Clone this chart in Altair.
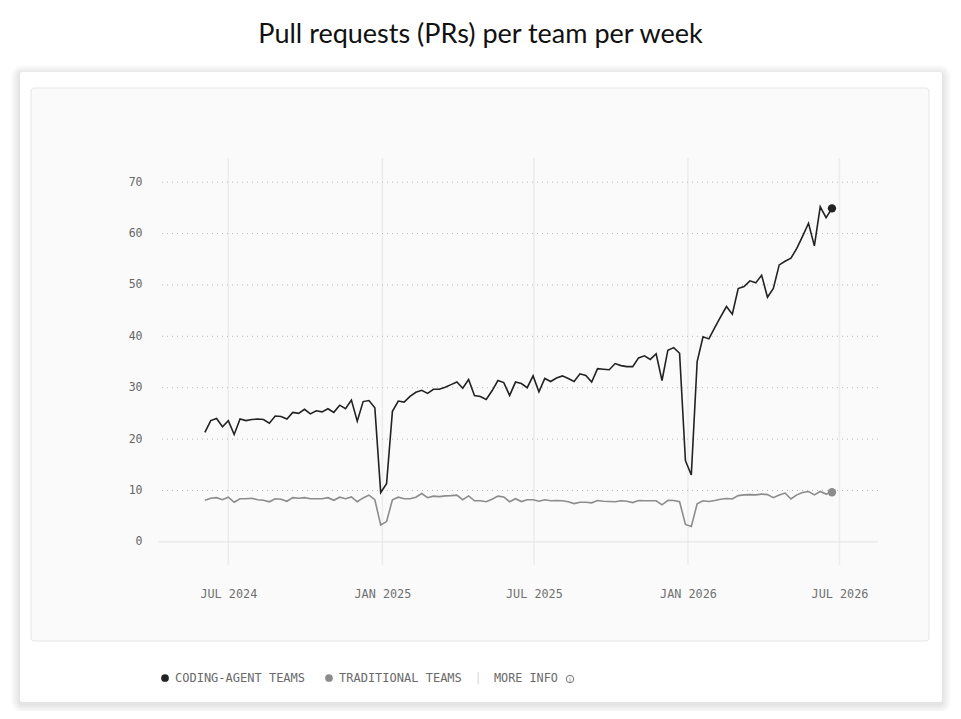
import altair as alt
import pandas as pd

# ---------------- data ----------------
week_start = "2024-06-03"
n_weeks = 108
dates = pd.date_range(week_start, periods=n_weeks, freq="7D").strftime("%Y-%m-%dT00:00:00").tolist()

coding_agent = [
    21.3, 23.6, 24.0, 22.4, 23.6, 20.9, 23.9, 23.6, 23.8, 23.9,
    23.8, 23.1, 24.5, 24.4, 23.9, 25.2, 25.0, 25.8, 24.9, 25.5,
    25.3, 25.9, 25.2, 26.6, 25.9, 27.6, 23.5, 27.3, 27.5, 26.1,
    9.6, 11.3, 25.4, 27.4, 27.2, 28.3, 29.1, 29.5, 28.9, 29.7,
    29.7, 30.1, 30.6, 31.1, 29.9, 31.6, 28.5, 28.3, 27.7, 29.4,
    31.4, 31.0, 28.5, 31.1, 30.8, 30.0, 32.3, 29.2, 31.8, 31.2,
    31.9, 32.3, 31.8, 31.2, 32.7, 32.4, 31.1, 33.7, 33.6, 33.5,
    34.7, 34.3, 34.1, 34.1, 35.8, 36.2, 35.5, 36.6, 31.4, 37.3,
    37.8, 36.7, 15.8, 13.0, 35.1, 39.9, 39.5, 41.7, 43.8, 45.8,
    44.3, 49.3, 49.7, 50.8, 50.4, 51.9, 47.6, 49.3, 53.9, 54.6,
    55.2, 57.1, 59.5, 62.0, 57.6, 65.2, 63.1, 64.9,
]

traditional = [
    8.1, 8.5, 8.6, 8.2, 8.7, 7.7, 8.4, 8.4, 8.5, 8.2,
    8.1, 7.8, 8.4, 8.3, 7.9, 8.6, 8.5, 8.6, 8.4, 8.4,
    8.4, 8.6, 8.1, 8.7, 8.4, 8.75, 7.8, 8.55, 9.1, 8.2,
    3.3, 3.95, 8.2, 8.7, 8.4, 8.4, 8.7, 9.4, 8.6, 8.9,
    8.8, 8.95, 9.0, 9.1, 8.2, 8.95, 8.0, 8.0, 7.8, 8.3,
    8.9, 8.75, 7.8, 8.4, 7.85, 8.2, 8.2, 7.9, 8.2, 8.0,
    8.05, 8.0, 7.8, 7.45, 7.7, 7.7, 7.6, 8.05, 7.9, 7.85,
    7.8, 8.0, 7.9, 7.65, 8.05, 8.0, 8.0, 8.0, 7.2, 8.1,
    8.05, 7.8, 3.4, 3.0, 7.4, 8.0, 7.85, 8.05, 8.3, 8.45,
    8.35, 9.0, 9.15, 9.2, 9.15, 9.3, 9.2, 8.6, 9.1, 9.5,
    8.35, 9.15, 9.6, 9.8, 9.15, 9.8, 9.3, 9.65,
]

series_names = ["Coding-agent teams", "Traditional teams"]
series_colors = ["#222222", "#8c8c8c"]
y_ticks = [0, 10, 20, 30, 40, 50, 60, 70]
x_ticks = ["2024-07-01T00:00:00", "2025-01-01T00:00:00", "2025-07-01T00:00:00",
           "2026-01-01T00:00:00", "2026-07-01T00:00:00"]
title_text = "Pull requests (PRs) per team per week"
more_info_text = "MORE INFO"

df = pd.DataFrame({
    "date": dates * 2,
    "value": coding_agent + traditional,
    "series": [series_names[0]] * n_weeks + [series_names[1]] * n_weeks,
})
last = df.groupby("series").tail(1)

MONO = "DejaVu Sans Mono"

x_scale = alt.Scale(domain=[alt.DateTime(year=2024, month=4, date=8),
                            alt.DateTime(year=2026, month=8, date=16)])
y_scale = alt.Scale(domain=[-4.5, 74.7], nice=False, zero=False)
color_scale = alt.Scale(domain=series_names, range=series_colors)

x_axis = alt.Axis(
    values=[alt.DateTime(year=2024, month=7, date=1), alt.DateTime(year=2025, month=1, date=1),
            alt.DateTime(year=2025, month=7, date=1), alt.DateTime(year=2026, month=1, date=1),
            alt.DateTime(year=2026, month=7, date=1)],
    labelExpr="upper(timeFormat(datum.value, '%b %Y'))",
    title=None, grid=False, ticks=False, domain=False,
    labelFont=MONO, labelFontSize=11.8, labelColor="#707070",
    labelPadding=23, labelFlush=False, zindex=1,
)
y_axis = alt.Axis(
    values=y_ticks, title=None, grid=False, ticks=False, domain=False,
    labelFont=MONO, labelFontSize=11.5, labelColor="#666666",
    labelPadding=16, zindex=1,
)

one = pd.DataFrame({"k": [0]})


def box(x, x2, y, y2, **kw):
    return alt.Chart(one).mark_rect(**kw).encode(
        x=alt.value(x), x2=alt.value(x2), y=alt.value(y), y2=alt.value(y2)
    )


# card shadow + card + inner panel (decoration)
layers = []
for k in range(1, 10):
    layers.append(box(-138 - k, 784 + k, -86 - k + 2, 544 + k + 2,
                      color="#000000", opacity=0.011, cornerRadius=2 + k))
layers.append(box(-138, 784, -86, 544, color="#ffffff", cornerRadius=2))
layers.append(box(-127, 771, -70, 483, fill="#fafafa", stroke="#e6e6e6",
                  strokeWidth=1, cornerRadius=3))

# grid lines
vgrid = alt.Chart(pd.DataFrame({"t": x_ticks})).mark_rule(
    color="#ececec", strokeWidth=1.5
).encode(x=alt.X("t:T", scale=x_scale, axis=x_axis))

hgrid = alt.Chart(pd.DataFrame({"v": y_ticks[1:]})).mark_rule(
    color="#b8b8b8", strokeDash=[1, 4], strokeWidth=1
).encode(y=alt.Y("v:Q", scale=y_scale, axis=y_axis))

zero_line = alt.Chart(pd.DataFrame({"v": [0]})).mark_rule(
    color="#e2e2e2", strokeWidth=1
).encode(y=alt.Y("v:Q", scale=y_scale, axis=y_axis))

lines = alt.Chart(df).mark_line(strokeWidth=1.6).encode(
    x=alt.X("date:T", scale=x_scale, axis=x_axis),
    y=alt.Y("value:Q", scale=y_scale, axis=y_axis),
    color=alt.Color("series:N", scale=color_scale, legend=None),
)

end_dots = alt.Chart(last).mark_circle(size=70, opacity=1).encode(
    x=alt.X("date:T", scale=x_scale, axis=x_axis),
    y=alt.Y("value:Q", scale=y_scale, axis=y_axis),
    color=alt.Color(
        "series:N", scale=color_scale,
        legend=alt.Legend(
            orient="none", legendX=1, legendY=514, direction="horizontal",
            title=None, labelFont=MONO, labelFontSize=12, labelColor="#6a6a6a",
            labelExpr="upper(datum.label)", symbolType="circle", symbolSize=60,
            symbolStrokeWidth=0, symbolOpacity=1, labelOffset=4,
            columnPadding=17, padding=0, offset=0,
        ),
    ),
)

separator = alt.Chart(one).mark_text(
    text="|", font=MONO, fontSize=12, color="#d8d8d8", align="center", baseline="middle"
).encode(x=alt.value(320), y=alt.value(520))

more_info = alt.Chart(one).mark_text(
    text=more_info_text, font=MONO, fontSize=11.8, color="#6a6a6a", align="left", baseline="middle"
).encode(x=alt.value(336), y=alt.value(520))

info_ring = alt.Chart(one).mark_point(
    shape="circle", filled=False, size=55, strokeWidth=1, color="#777777", opacity=1
).encode(x=alt.value(412), y=alt.value(521))

info_i = alt.Chart(one).mark_text(
    text="i", font="DejaVu Sans", fontSize=7, color="#777777", align="center", baseline="middle"
).encode(x=alt.value(412), y=alt.value(521.5))

title = alt.Chart(one).mark_text(
    text=title_text, font="Lato", fontSize=27, color="#111111",
    align="center", baseline="middle"
).encode(x=alt.value(322.5), y=alt.value(-123))

chart = alt.layer(
    *layers, vgrid, hgrid, zero_line, lines, end_dots,
    separator, more_info, info_ring, info_i, title,
).resolve_scale(color="independent").properties(
    width=720, height=407,
    autosize=alt.AutoSizeParams(type="none"),
    padding={"left": 150, "top": 150, "right": 75, "bottom": 146},
    background="#ffffff",
).configure_view(stroke=None)

chart.save("out.html", embed_options={"renderer": "svg", "actions": False})
